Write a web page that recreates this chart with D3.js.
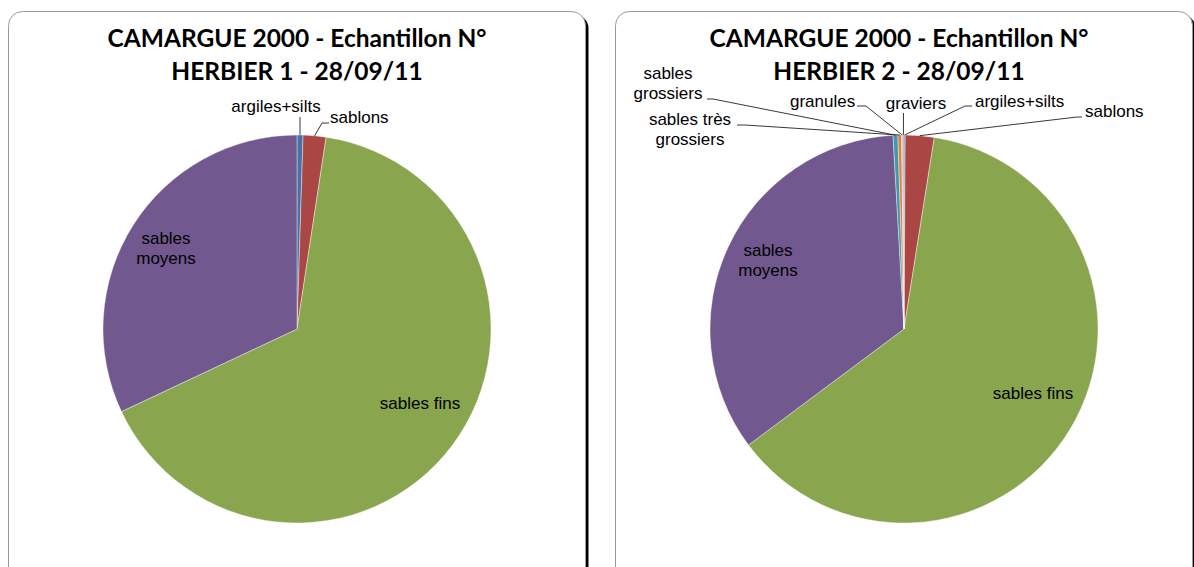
<!DOCTYPE html>
<html><head><meta charset="utf-8">
<script src="https://cdn.jsdelivr.net/npm/d3@7"></script>
<style>body{margin:0;background:#fff} svg{display:block}</style>
</head><body><svg id="c" width="1194" height="567"></svg>
<script>
// ---- data ----
const categories1 = ["argiles+silts","sablons","sables fins","sables moyens"];
const values1 = [0.5, 1.9, 65.6, 32.0];
const categories2 = ["argiles+silts","sablons","sables fins","sables moyens","sables grossiers","sables très grossiers","granules","graviers"];
const values2 = [0.1, 2.4, 62.3, 34.3, 0.4, 0.3, 0.1, 0.1];
const titles1 = ["CAMARGUE 2000 - Echantillon N°", "HERBIER 1 - 28/09/11"];
const titles2 = ["CAMARGUE 2000 - Echantillon N°", "HERBIER 2 - 28/09/11"];
const colors = ["#4572A7","#AA4643","#89A54E","#71588F","#4198AF","#DB843D","#93A9CF","#D19392"];

// ---- layout (positions of labels, not data) ----
const layout1 = {
  box: {x: 8.5, y: 11.5}, cx: 297, cy: 329, r: 194, titleX: 297,
  labels: {
    "argiles+silts": {lines:["argiles+silts"], x:276, y:112, anchor:"middle", leader:[[300,117]]},
    "sablons": {lines:["sablons"], x:330, y:123, anchor:"start", leader:[[329,123],[322,123]]},
    "sables fins": {lines:["sables fins"], x:420, y:409, anchor:"middle"},
    "sables moyens": {lines:["sables","moyens"], x:166, y:244, anchor:"middle"}
  }
};
const layout2 = {
  box: {x: 615.5, y: 11.5}, cx: 904, cy: 329, r: 194, titleX: 899,
  labels: {
    "sables grossiers": {lines:["sables","grossiers"], x:668, y:79, anchor:"middle", leader:[[707,99],[713,99]]},
    "sables très grossiers": {lines:["sables très","grossiers"], x:690, y:125, anchor:"middle", leader:[[737,125],[745,125]]},
    "granules": {lines:["granules"], x:790, y:107, anchor:"start", leader:[[857,106],[866,106]]},
    "graviers": {lines:["graviers"], x:916, y:109, anchor:"middle", leader:[[903.5,113]]},
    "argiles+silts": {lines:["argiles+silts"], x:975, y:107, anchor:"start", leader:[[972,106],[965,106]]},
    "sablons": {lines:["sablons"], x:1085, y:117, anchor:"start", leader:[[1082,117],[1077,117]]},
    "sables moyens": {lines:["sables","moyens"], x:768, y:256, anchor:"middle"},
    "sables fins": {lines:["sables fins"], x:1033, y:399, anchor:"middle"}
  }
};

const svg = d3.select("#c");
const BW = 577, BH = 570;

function drawChart(cats, vals, titles, L) {
  const g = svg.append("g");
  // shadow + frame
  g.append("rect").attr("x", L.box.x + 3).attr("y", L.box.y + 3).attr("width", BW).attr("height", BH)
    .attr("rx", 14).attr("fill", "#000");
  g.append("rect").attr("x", L.box.x).attr("y", L.box.y).attr("width", BW).attr("height", BH)
    .attr("rx", 14).attr("fill", "#fff").attr("stroke", "#9a9a9a").attr("stroke-width", 1);

  // title
  const tg = g.append("g").attr("font-family", "Lato, 'Open Sans', sans-serif").attr("font-weight", "bold")
    .attr("text-anchor", "middle").attr("fill", "#000");
  const t1 = tg.append("text").attr("x", L.titleX).attr("y", 47).attr("font-size", 22).text(titles[0]);
  const w = t1.node().getComputedTextLength();
  const fs = 22 * 379 / w;
  t1.attr("font-size", fs);
  tg.append("text").attr("x", L.titleX).attr("y", 80).attr("font-size", fs).text(titles[1]);

  // pie
  const data = cats.map((c, i) => ({cat: c, value: vals[i], color: colors[i]}));
  const pie = d3.pie().sort(null).value(d => d.value);
  const arcs = pie(data);
  const arc = d3.arc().innerRadius(0).outerRadius(L.r);
  const pg = g.append("g").attr("transform", `translate(${L.cx},${L.cy})`);
  pg.selectAll("path").data(arcs).join("path")
    .attr("d", arc).attr("fill", d => d.data.color)
    .attr("stroke", "#fff").attr("stroke-width", 0.4);

  // labels + leaders
  const lg = g.append("g").attr("font-family", "'Liberation Sans', Arial, sans-serif").attr("font-size", 17).attr("fill", "#000");
  arcs.forEach(a => {
    const lab = L.labels[a.data.cat];
    if (!lab) return;
    const t = lg.append("text").attr("x", lab.x).attr("y", lab.y).attr("text-anchor", lab.anchor);
    lab.lines.forEach((ln, i) => {
      t.append("tspan").attr("x", lab.x).attr("dy", i === 0 ? 0 : 20).text(ln);
    });
    if (lab.leader) {
      const mid = (a.startAngle + a.endAngle) / 2;
      const px = L.cx + L.r * Math.sin(mid), py = L.cy - L.r * Math.cos(mid);
      const pts = lab.leader.concat([[px, py]]);
      lg.append("path").attr("d", d3.line()(pts)).attr("fill", "none")
        .attr("stroke", "#222").attr("stroke-width", 0.9);
    }
  });
}

drawChart(categories1, values1, titles1, layout1);
drawChart(categories2, values2, titles2, layout2);
</script>
</body></html>
